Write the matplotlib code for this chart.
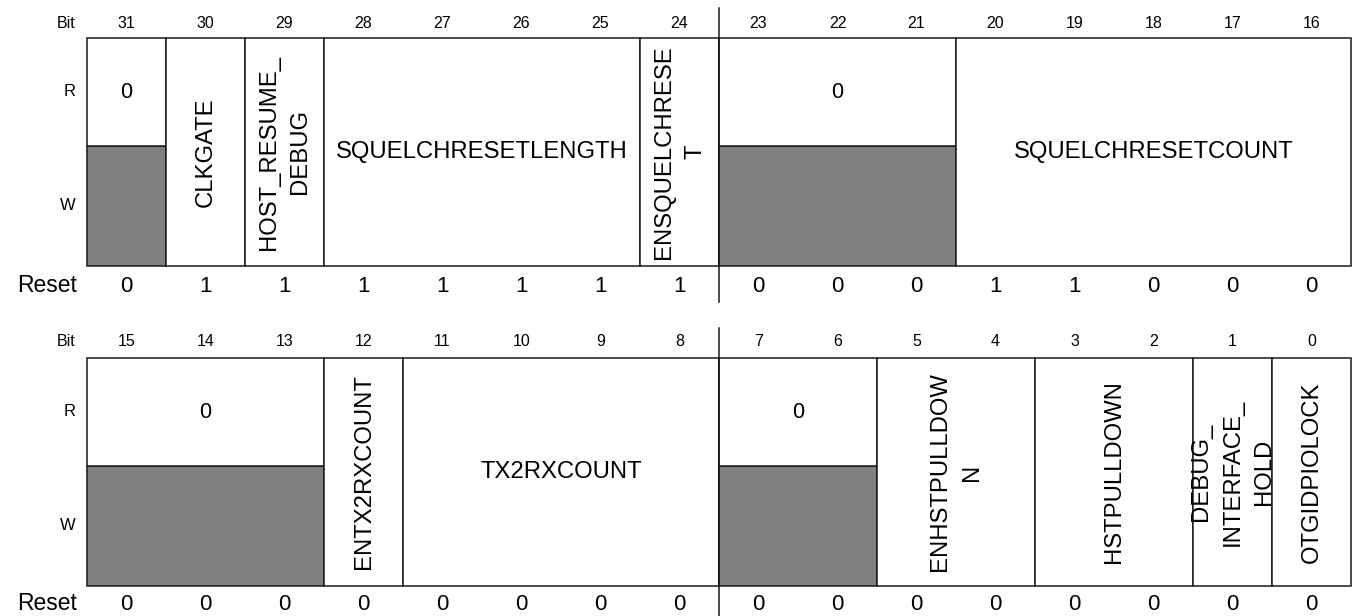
import matplotlib
matplotlib.use("Agg")
import matplotlib.pyplot as plt
from matplotlib.patches import Rectangle

plt.rcParams['font.family'] = ['Liberation Sans', 'DejaVu Sans']

# register contents
top_bits = list(range(31, 15, -1))
top_reset = [0, 1, 1, 1, 1, 1, 1, 1, 0, 0, 0, 1, 1, 0, 0, 0]
top_names = ["0", "CLKGATE", "HOST_RESUME_\nDEBUG", "SQUELCHRESETLENGTH",
             "ENSQUELCHRESE\nT", "0", "SQUELCHRESETCOUNT"]
top_msb = [31, 30, 29, 28, 24, 23, 20]
top_lsb = [31, 30, 29, 25, 24, 21, 16]
top_kind = ["res", "v", "v", "h", "v", "res", "h"]

bot_bits = list(range(15, -1, -1))
bot_reset = [0] * 16
bot_names = ["0", "ENTX2RXCOUNT", "TX2RXCOUNT", "0", "ENHSTPULLDOW\nN",
             "HSTPULLDOWN", "DEBUG_\nINTERFACE_\nHOLD", "OTGIDPIOLOCK"]
bot_msb = [15, 12, 11, 7, 5, 3, 1, 0]
bot_lsb = [13, 12, 8, 6, 4, 2, 1, 0]
bot_kind = ["res", "v", "h", "res", "v", "v", "v", "v"]

W, H = 1353, 616
fig = plt.figure(figsize=(W / 100, H / 100), dpi=100)
ax = fig.add_axes([0, 0, 1, 1])
ax.set_xlim(0, W)
ax.set_ylim(H, 0)
ax.axis("off")

x0, x1 = 87, 1351
cw = (x1 - x0) / 16
lc = "#1a1a1a"


def draw_reg(bits, reset, names, msb, lsb, kind, top, bot, ylab, yres):
    mid = top + 108
    hi = bits[0]
    ax.text(76, ylab, "Bit", ha="right", va="center", fontsize=11.5)
    ax.text(76, (top + mid) / 2, "R", ha="right", va="center", fontsize=12)
    ax.text(76, (mid + bot) / 2, "W", ha="right", va="center", fontsize=12)
    ax.text(77, yres, "Reset", ha="right", va="center", fontsize=16.5)
    for i, b in enumerate(bits):
        xc = x0 + (i + 0.5) * cw
        ax.text(xc, ylab, str(b), ha="center", va="center", fontsize=11.5)
        ax.text(xc, yres, str(reset[i]), ha="center", va="center", fontsize=16)
    for name, m, l, k in zip(names, msb, lsb, kind):
        xa = x0 + (hi - m) * cw
        xb = x0 + (hi - l + 1) * cw
        xc = (xa + xb) / 2
        if k == "res":
            ax.add_patch(Rectangle((xa, mid), xb - xa, bot - mid, facecolor="#808080",
                                   edgecolor=lc, lw=1.1))
            ax.add_patch(Rectangle((xa, top), xb - xa, mid - top, facecolor="white",
                                   edgecolor=lc, lw=1.1))
            ax.text(xc, (top + mid) / 2, name, ha="center", va="center", fontsize=15.5)
        else:
            ax.add_patch(Rectangle((xa, top), xb - xa, bot - top, facecolor="white",
                                   edgecolor=lc, lw=1.1))
            rot = 90 if k == "v" else 0
            ax.text(xc, (top + bot) / 2, name, ha="center", va="center", fontsize=17.2,
                    rotation=rot, multialignment="center", linespacing=1.55)
    # divider between bytes
    xd = x0 + 8 * cw
    ax.plot([xd, xd], [top - 30, bot + 36], color=lc, lw=1.1)


draw_reg(top_bits, top_reset, top_names, top_msb, top_lsb, top_kind,
         38, 266, 23, 286)
draw_reg(bot_bits, bot_reset, bot_names, bot_msb, bot_lsb, bot_kind,
         358, 586, 342, 604)

plt.savefig("out.png", dpi=100)
